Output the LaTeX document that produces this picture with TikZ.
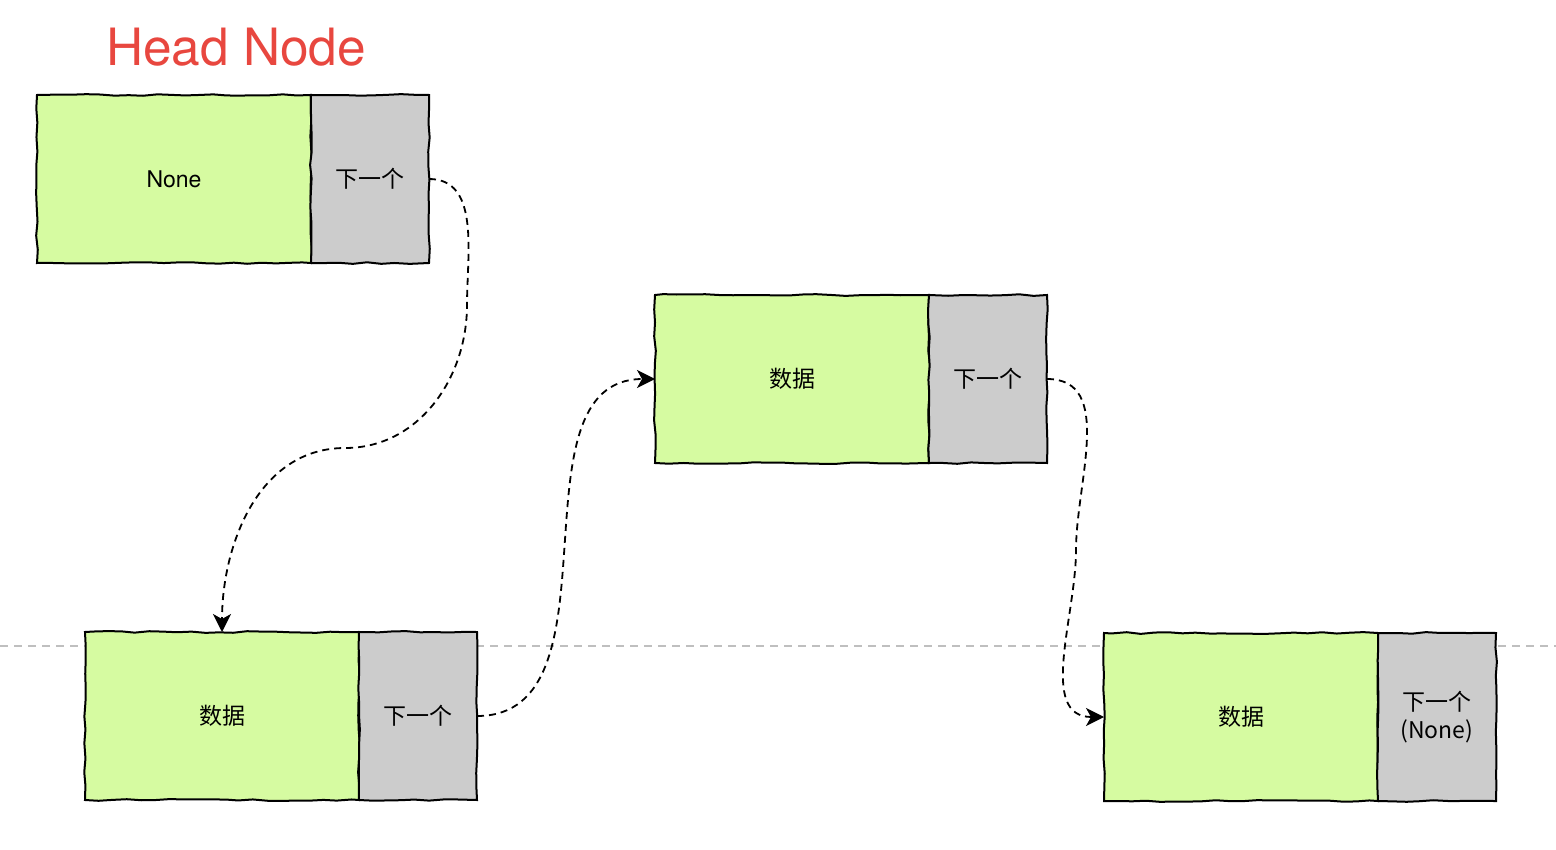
\documentclass[tikz,border=0pt]{standalone}
\usepackage{fontspec}
\setmainfont{TeX Gyre Heros}
\newfontfamily\cjk{Noto Sans CJK SC}
\usetikzlibrary{positioning,arrows.meta,decorations.pathmorphing}
\definecolor{datagreen}{HTML}{D6FBA1}
\definecolor{nextgray}{HTML}{CCCCCC}
\definecolor{titlered}{HTML}{E8473F}
\begin{document}
\begin{tikzpicture}[x=0.5pt, y=0.5pt,
	cell/.style = {draw, line width=1pt, outer sep=0pt, minimum height=84pt,
		decorate, decoration={random steps, segment length=7pt, amplitude=0.45pt},
		font=\fontsize{11.5}{14}\selectfont},
	databox/.style = {cell, fill=datagreen, minimum width=137pt, anchor=north west},
	nextbox/.style = {cell, fill=nextgray, minimum width=59pt, align=center,
		font=\fontsize{11.5}{14}\selectfont\cjk},
	link/.style = {line width=0.9pt, dash pattern=on 3.5pt off 2.5pt,
		-{Stealth[length=9pt, width=9pt, inset=2.5pt]}}]
	\pgfmathsetseed{11}
	\useasboundingbox (0,0) rectangle (1556,-850);
	% guide line
	\draw[black!25, line width=0.6pt, dash pattern=on 4pt off 3pt] (0,-646) -- (1556,-646);
	\node[text=titlered, font=\fontsize{25.7}{30}\selectfont] (title) at (236,-47) {Head Node};
	% nodes of the list
	\node[databox] (head) at (37,-95) {None};
	\node[nextbox, right=0pt of head] (headnext) {下一个};
	\node[databox] (data1) at (85,-632) {\cjk 数据};
	\node[nextbox, right=0pt of data1] (next1) {下一个};
	\node[databox] (data2) at (655,-295) {\cjk 数据};
	\node[nextbox, right=0pt of data2] (next2) {下一个};
	\node[databox] (data3) at (1104,-633) {\cjk 数据};
	\node[nextbox, right=0pt of data3] (next3) {下一个\\(None)};
	% links
	\coordinate (down1) at (467,-305);
	\coordinate (bend1) at (345,-448);
	\coordinate (bend2) at (1076,-550);
	\draw[link] (headnext.east) to[out=0, in=90] (down1) to[out=-90, in=0] (bend1)
		to[out=180, in=90] (data1.north);
	\draw[link] (next1.east) to[out=0, in=180] (data2.west);
	\draw[link] (next2.east) to[out=0, in=90] (bend2) to[out=-90, in=180] (data3.west);
\end{tikzpicture}
\end{document}
